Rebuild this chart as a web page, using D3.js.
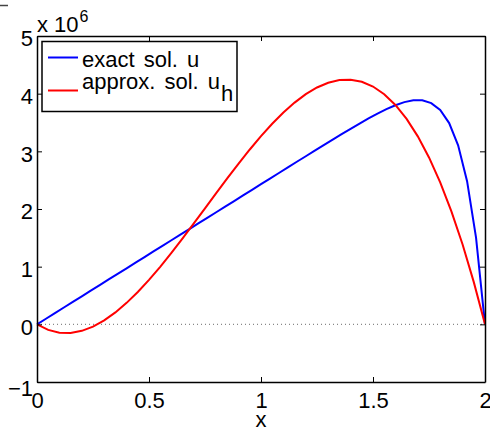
<!DOCTYPE html>
<html><head><meta charset="utf-8">
<script src="https://cdn.jsdelivr.net/npm/d3@7"></script>
<style>body{margin:0;background:#fff;} svg{display:block;}</style>
</head><body>
<script>
const xExact = [0,0.04,0.08,0.12,0.16,0.20,0.24,0.28,0.32,0.36,0.40,0.44,0.48,0.52,0.56,0.60,0.64,0.68,0.72,0.76,0.80,0.84,0.88,0.92,0.96,1.00,1.04,1.08,1.12,1.16,1.20,1.24,1.28,1.32,1.36,1.40,1.44,1.48,1.52,1.56,1.60,1.64,1.68,1.72,1.76,1.80,1.84,1.88,1.92,1.96,2.00];
const uExact = [0,0.097,0.194,0.292,0.389,0.486,0.583,0.680,0.778,0.875,0.972,1.069,1.166,1.264,1.361,1.458,1.555,1.652,1.750,1.847,1.944,2.041,2.138,2.236,2.333,2.430,2.527,2.624,2.722,2.819,2.915,3.012,3.109,3.204,3.297,3.390,3.481,3.570,3.653,3.731,3.799,3.853,3.884,3.884,3.836,3.716,3.490,3.105,2.482,1.505,0];
const xApprox = [0,0.05,0.10,0.15,0.20,0.25,0.30,0.35,0.40,0.45,0.50,0.55,0.60,0.65,0.70,0.75,0.80,0.85,0.90,0.95,1.00,1.05,1.10,1.15,1.20,1.25,1.30,1.35,1.40,1.45,1.50,1.55,1.60,1.65,1.70,1.75,1.80,1.85,1.90,1.95,2.00];
const uApprox = [0,-0.096,-0.144,-0.149,-0.113,-0.039,0.068,0.207,0.372,0.561,0.771,0.998,1.239,1.491,1.749,2.012,2.274,2.534,2.788,3.032,3.263,3.478,3.673,3.845,3.991,4.107,4.190,4.236,4.243,4.207,4.124,3.991,3.805,3.562,3.260,2.894,2.462,1.960,1.384,0.732,0];
const xTicks = [0,0.5,1,1.5,2];
const xTickLabels = ["0","0.5","1","1.5","2"];
const yTicks = [-1,0,1,2,3,4,5];
const yTickLabels = ["\u22121","0","1","2","3","4","5"];
const seriesNames = ["exact sol. u","approx. sol. u"];
const seriesColors = ["#0000ff","#ff0000"];

const W=490,H=430;
const m={left:37,right:5,top:36,bottom:48};
const svg=d3.select("body").append("svg").attr("width",W).attr("height",H);
const x=d3.scaleLinear().domain([0,2]).range([m.left,W-m.right]);
const y=d3.scaleLinear().domain([-1,5]).range([H-m.bottom,m.top]);
const font="'Liberation Sans', Arial, Helvetica, sans-serif";
const fs=22;

// stray corner mark
svg.append("line").attr("x1",0).attr("x2",8).attr("y1",5.5).attr("y2",5.5).attr("stroke","#444").attr("stroke-width",1.5);

// zero dotted line
svg.append("line").attr("x1",x(0)).attr("x2",x(2)).attr("y1",y(0)).attr("y2",y(0))
  .attr("stroke","#888").attr("stroke-width",1.2).attr("stroke-dasharray","1,3");

// curves
const line=d3.line().x(d=>x(d[0])).y(d=>y(d[1]));
svg.append("path").datum(xExact.map((v,i)=>[v,uExact[i]])).attr("d",line)
  .attr("fill","none").attr("stroke",seriesColors[0]).attr("stroke-width",2);
svg.append("path").datum(xApprox.map((v,i)=>[v,uApprox[i]])).attr("d",line)
  .attr("fill","none").attr("stroke",seriesColors[1]).attr("stroke-width",2);

// axes (inward ticks, box)
const tl=5;
const gx=svg.append("g").attr("transform",`translate(0,${y(-1)})`)
  .call(d3.axisBottom(x).tickValues(xTicks).tickSizeInner(-tl).tickSizeOuter(0).tickFormat((d,i)=>xTickLabels[i]));
const gxt=svg.append("g").attr("transform",`translate(0,${y(5)})`)
  .call(d3.axisTop(x).tickValues(xTicks).tickSizeInner(-tl).tickSizeOuter(0).tickFormat(""));
const gy=svg.append("g").attr("transform",`translate(${x(0)},0)`)
  .call(d3.axisLeft(y).tickValues(yTicks).tickSizeInner(-tl).tickSizeOuter(0).tickFormat((d,i)=>yTickLabels[i]).tickPadding(4));
const gyr=svg.append("g").attr("transform",`translate(${x(2)},0)`)
  .call(d3.axisRight(y).tickValues(yTicks).tickSizeInner(-tl).tickSizeOuter(0).tickFormat(""));
[gx,gxt,gy,gyr].forEach(g=>{
  g.select(".domain").attr("stroke","#000").attr("stroke-width",1.5);
  g.selectAll(".tick line").attr("stroke","#000").attr("stroke-width",1);
  g.selectAll("text").attr("font-family",font).attr("font-size",fs).attr("fill","#000");
});
gx.selectAll(".tick text").attr("y",26).attr("dy",0);
gy.selectAll(".tick text").attr("dy",(d)=> d===-1 ? "0.62em":"0.45em");

// x label
svg.append("text").attr("x",x(1)).attr("y",H-3).attr("text-anchor","middle")
  .attr("font-family",font).attr("font-size",fs).text("x");

// exponent label
const ex=svg.append("text").attr("x",x(0)).attr("y",y(5)-4).attr("font-family",font).attr("font-size",fs);
ex.append("tspan").text("x 10");
ex.append("tspan").attr("dx",1).attr("dy",-10).attr("font-size",16).text("6");

// legend
const lg=svg.append("g");
lg.append("rect").attr("x",42).attr("y",41.5).attr("width",195).attr("height",70)
  .attr("fill","#fff").attr("stroke","#000").attr("stroke-width",1.5);
const rows=[57.5,90.5];
rows.forEach((ry,i)=>{
  lg.append("line").attr("x1",48).attr("x2",78).attr("y1",ry).attr("y2",ry)
    .attr("stroke",seriesColors[i]).attr("stroke-width",2);
});
lg.append("text").attr("x",82).attr("y",66.5).attr("font-family",font).attr("font-size",fs)
  .attr("word-spacing",3).text(seriesNames[0]);
const t2=lg.append("text").attr("x",82).attr("y",88.5).attr("font-family",font).attr("font-size",fs).attr("word-spacing",3);
t2.append("tspan").text(seriesNames[1]);
t2.append("tspan").attr("dx",1).attr("dy",12).text("h");
</script>
</body></html>
